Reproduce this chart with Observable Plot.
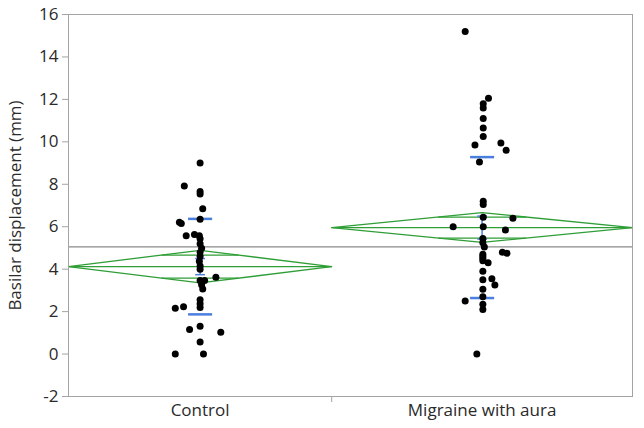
<!DOCTYPE html>
<html><head><meta charset="utf-8">
<script src="https://cdn.jsdelivr.net/npm/d3@7"></script>
<script src="https://cdn.jsdelivr.net/npm/@observablehq/plot@0.6"></script>
<style>body{margin:0;background:#fff}</style>
</head><body><div id="chart"></div>
<script>
// ---- data ----
const groups = ["Control", "Migraine with aura"];
const groupWidth = [35, 40];          // JMP group band widths (∝ n)
const groupMean = [4.12, 5.96];
const groupCI = [0.77, 0.70];         // 95% CI half-width (means diamond)
const groupSD = [2.25, 3.32];
const groupSE = [0.38, 0.54];
const grandMean = 5.05;
const yTicks = [-2, 0, 2, 4, 6, 8, 10, 12, 14, 16];

const controlValues = [9.0, 7.92, 7.66, 7.54, 6.85, 6.35, 6.21, 6.15, 5.58, 5.63, 5.58, 5.43, 5.20, 4.98, 4.78, 4.60, 4.37, 4.15, 4.0, 3.62, 3.47, 3.47, 3.27, 3.06, 2.56, 2.37, 2.19, 2.16, 2.23, 1.31, 1.16, 1.03, 0.57, 0, 0];
const controlJitter = [0, -2.1, 0, 0, 0.35, 0, -2.75, -2.5, -1.85, -0.75, -0.1, 0, 0, 0.2, 0, 0, -0.1, 0, 0, 2.1, 0, 0.6, 0.2, 0.35, 0, 0, 0, -3.3, -2.2, 0, -1.4, 2.75, 0, -3.3, 0.45];
const migraineValues = [15.2, 12.05, 11.8, 11.6, 11.1, 10.65, 10.25, 9.95, 9.85, 9.6, 9.05, 7.2, 7.05, 6.45, 6.4, 6.0, 6.0, 5.85, 5.45, 5.25, 5.05, 4.8, 4.75, 4.7, 4.6, 4.5, 4.4, 4.3, 3.9, 3.55, 3.5, 3.25, 3.05, 2.7, 2.5, 2.35, 2.1, 0];
const migraineJitter = [-2.25, 0.85, 0.15, 0.15, 0.15, 0.15, 0.15, 2.5, -0.95, 3.2, -0.35, 0.15, 0.15, 0.15, 4.1, -3.85, 0.15, 3.1, 0.1, 0.1, 0.3, 2.7, 3.3, 0.1, 0.1, 0.1, 0.1, 0.8, 0.1, 1.3, 0.1, 1.7, 0.1, 0.1, -2.25, 0.1, 0.1, -0.7];

// ---- derived tables ----
const starts = [0, groupWidth[0]];
const total = groupWidth[0] + groupWidth[1];
const stats = groups.map((g, i) => {
  const s = starts[i], w = groupWidth[i];
  return {group: g, start: s, end: s + w, center: s + w / 2, half: w / 2,
          mean: groupMean[i], ci: groupCI[i], sd: groupSD[i], se: groupSE[i]};
});
const diamond = stats.flatMap(d => [
  {g: d.group, x: d.start, y: d.mean},
  {g: d.group, x: d.center, y: d.mean + d.ci},
  {g: d.group, x: d.end, y: d.mean},
  {g: d.group, x: d.center, y: d.mean - d.ci},
  {g: d.group, x: d.start, y: d.mean}
]);
const k = 1 - Math.SQRT1_2;
const overlap = stats.flatMap(d => [1, -1].map(s => ({
  x1: d.center - k * d.half, x2: d.center + k * d.half, y: d.mean + s * d.ci * Math.SQRT1_2})));
const sdLines = stats.flatMap(d => [1, -1].map(s => ({
  x1: d.center - 1.6, x2: d.center + 1.6, y: d.mean + s * d.sd})));
const seCaps = stats.flatMap(d => [1, -1].map(s => ({
  x1: d.center - 0.65, x2: d.center + 0.65, y: d.mean + s * d.se})));
const points = [
  ...controlValues.map((v, i) => ({x: stats[0].center + controlJitter[i], y: v})),
  ...migraineValues.map((v, i) => ({x: stats[1].center + migraineJitter[i], y: v}))
];
const labelAt = new Map(stats.map(d => [d.center, d.group]));

const green = "#2f9e36", blue = "#4a7fe0", grey = "#a3a3a3";

const chart = Plot.plot({
  width: 644, height: 428,
  marginTop: 14, marginBottom: 32, marginLeft: 68, marginRight: 12,
  style: {fontFamily: "'Open Sans', 'Noto Sans', sans-serif", fontSize: "17px", color: "#2a2a2a", background: "#fff"},
  x: {domain: [0, total]},
  y: {domain: [-2, 16]},
  marks: [
    Plot.ruleY([grandMean], {stroke: "#8a8a8a", strokeWidth: 1.2}),
    Plot.line(diamond, {x: "x", y: "y", z: "g", stroke: green, strokeWidth: 1.3}),
    Plot.link(stats, {x1: "start", x2: "end", y1: "mean", y2: "mean", stroke: green, strokeWidth: 1.3}),
    Plot.link(overlap, {x1: "x1", x2: "x2", y1: "y", y2: "y", stroke: green, strokeWidth: 1.3}),
    Plot.link(sdLines, {x1: "x1", x2: "x2", y1: "y", y2: "y", stroke: blue, strokeWidth: 2.5}),
    Plot.link(stats, {x1: "center", x2: "center", y1: d => d.mean - d.se, y2: d => d.mean + d.se, stroke: blue, strokeWidth: 1.5}),
    Plot.link(seCaps, {x1: "x1", x2: "x2", y1: "y", y2: "y", stroke: blue, strokeWidth: 1.5}),
    Plot.dot(points, {x: "x", y: "y", r: 3.5, fill: "#000", stroke: null}),
    Plot.frame({stroke: grey}),
    Plot.axisY({ticks: yTicks, tickSize: 6, tickPadding: 4, stroke: grey, fill: "#2a2a2a",
      tickFormat: d => String(d), fontSize: 17,
      label: "Basilar displacement (mm)", labelAnchor: "center", labelArrow: "none", labelOffset: 60}),
    Plot.axisX({ticks: stats.map(d => d.center), tickSize: 0, tickPadding: 7, fill: "#2a2a2a",
      tickFormat: d => labelAt.get(d), label: null, fontSize: 17}),
    Plot.axisX({ticks: [groupWidth[0]], tickSize: 6, tickFormat: () => "", stroke: grey, label: null})
  ]
});
document.getElementById("chart").appendChild(chart);
</script>
</body></html>
